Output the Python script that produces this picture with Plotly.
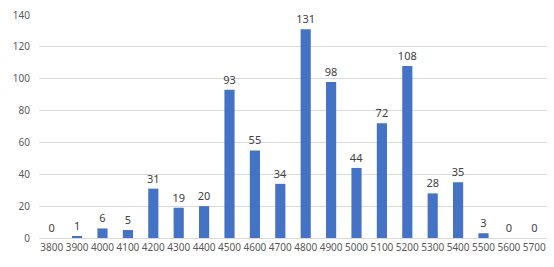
import plotly.graph_objects as go

categories = [str(v) for v in range(3800, 5800, 100)]
values = [0, 1, 6, 5, 31, 19, 20, 93, 55, 34, 131, 98, 44, 72, 108, 28, 35, 3, 0, 0]
y_ticks = [0, 20, 40, 60, 80, 100, 120, 140]

fig = go.Figure(go.Bar(
    x=categories, y=values,
    marker=dict(color="#4472C4", line=dict(width=0)),
    text=[str(v) for v in values], textposition="outside",
    textfont=dict(size=11, color="#404040"),
    constraintext="none",
    cliponaxis=False,
))
fig.update_layout(
    width=554, height=267,
    margin=dict(l=39, r=7, t=10, b=29),
    paper_bgcolor="white", plot_bgcolor="white",
    bargap=0.6, showlegend=False,
    font=dict(family="Noto Sans, Liberation Sans, sans-serif", size=10, color="#595959"),
)
fig.update_xaxes(type="category", showgrid=False, showline=True, linecolor="#d9d9d9",
                 ticks="", tickfont=dict(size=10, color="#595959"), tickangle=0)
fig.update_yaxes(range=[0, 140], tickvals=y_ticks, showgrid=True, gridcolor="#d9d9d9",
                 zeroline=False, ticks="", ticklabelstandoff=8,
                 tickfont=dict(size=10, color="#595959"))
fig.write_html("out.html")
